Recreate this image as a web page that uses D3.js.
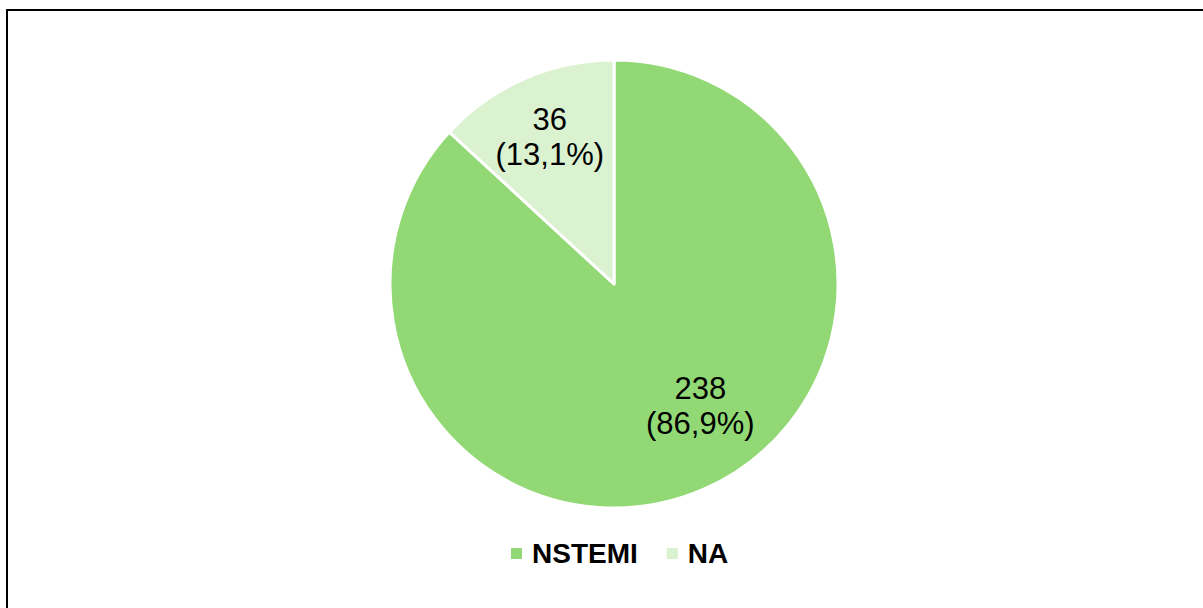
<!DOCTYPE html>
<html><head><meta charset="utf-8">
<script src="https://cdn.jsdelivr.net/npm/d3@7"></script>
<style>html,body{margin:0;padding:0;background:#fff;}svg{display:block;}</style>
</head><body>
<script>
const categories = ["NSTEMI", "NA"];
const values = [238, 36];
const percentLabels = ["86,9%", "13,1%"];
const colors = ["#92d975", "#daf2d0"];

const W = 1203, H = 608;
const svg = d3.select("body").append("svg").attr("width", W).attr("height", H);
svg.append("rect").attr("x", 7).attr("y", 10).attr("width", W).attr("height", H)
  .attr("fill", "#fff").attr("stroke", "#000").attr("stroke-width", 2);

const cx = 614, cy = 284, R = 224;
const g = svg.append("g").attr("transform", `translate(${cx},${cy})`);
const pie = d3.pie().sort(null).value(d => d.v);
const data = pie(categories.map((c, i) => ({c, v: values[i], p: percentLabels[i], col: colors[i]})));
const arc = d3.arc().innerRadius(0).outerRadius(R);
g.selectAll("path").data(data).join("path")
  .attr("d", arc).attr("fill", d => d.data.col)
  .attr("stroke", "#fff").attr("stroke-width", 3).attr("stroke-linejoin", "round");

// label positions: NA at mid-angle centroid, NSTEMI best-fit shifted
const labelR = [150, 160];
const labelAngleShift = [-0.2, 0];
const lab = g.selectAll("text.lab").data(data).join("text").attr("class", "lab")
  .attr("text-anchor", "middle")
  .attr("font-family", "Liberation Sans, Arial, sans-serif")
  .attr("font-size", 31).attr("fill", "#000")
  .attr("transform", (d, i) => {
    const a = (d.startAngle + d.endAngle) / 2 + labelAngleShift[i];
    const x = Math.sin(a) * labelR[i], y = -Math.cos(a) * labelR[i];
    return `translate(${x},${y})`;
  });
lab.append("tspan").attr("x", 0).attr("dy", "-0.25em").text(d => d.data.v);
lab.append("tspan").attr("x", 0).attr("dy", "1.13em").text(d => `(${d.data.p})`);

// legend
const legend = svg.append("g");
const fontLeg = "bold 28px 'Liberation Sans', Arial, sans-serif";
const ctx = document.createElement("canvas").getContext("2d");
ctx.font = fontLeg;
let x = 511;
const items = data.map(d => d.data);
items.forEach((d, i) => {
  legend.append("rect").attr("x", x).attr("y", 548).attr("width", 11).attr("height", 11).attr("fill", d.col);
  legend.append("text").attr("x", x + 21).attr("y", 563)
    .attr("font-family", "Liberation Sans, Arial, sans-serif").attr("font-weight", "bold")
    .attr("font-size", 28).attr("fill", "#000").text(d.c);
  x += 21 + ctx.measureText(d.c).width + 29;
});
</script>
</body></html>
